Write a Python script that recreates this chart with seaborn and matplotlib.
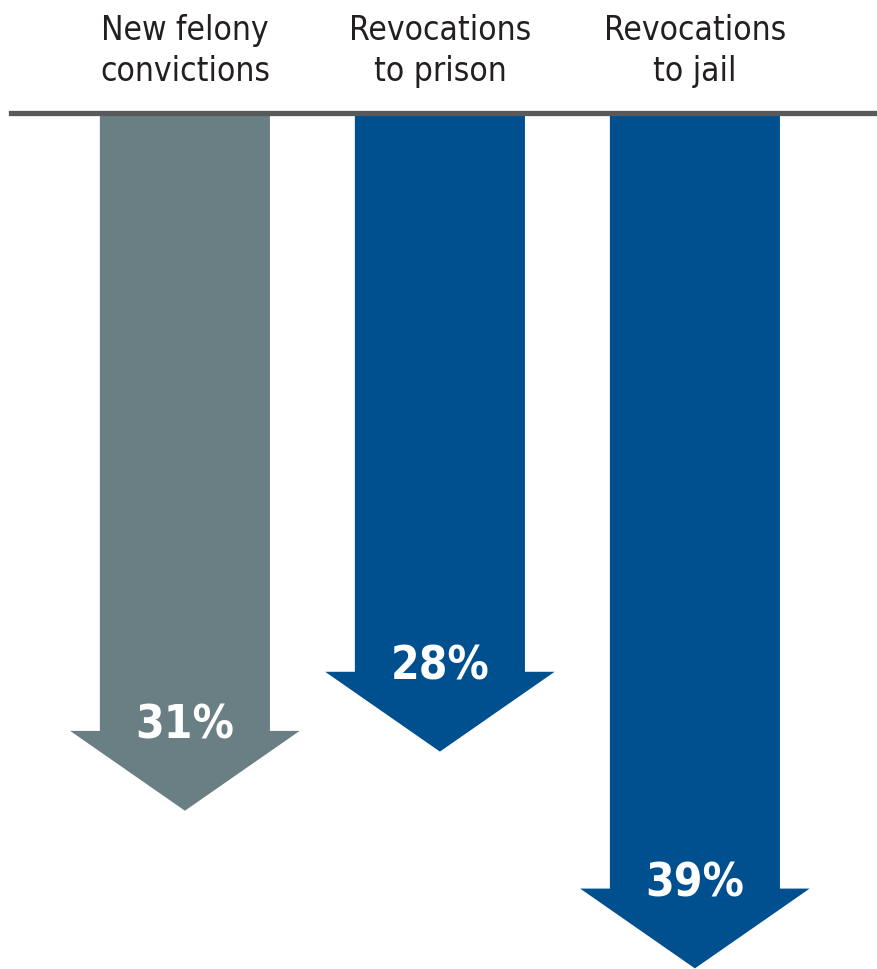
import matplotlib.pyplot as plt
import seaborn as sns
from matplotlib.patches import FancyArrow

# data
categories = ['New felony\nconvictions', 'Revocations\nto prison', 'Revocations\nto jail']
values = [31, 28, 39]
value_labels = ['31%', '28%', '39%']
colors = ['#6a7f84', '#00508f', '#00508f']

sns.set_theme(style='white')
plt.rcParams['font.family'] = ['DejaVu Sans']
plt.rcParams['font.stretch'] = 'condensed'

fig = plt.figure(figsize=(8.78, 9.69), dpi=100)
ax = fig.add_axes([11 / 878, 0, 1 - 11 / 878, 1 - 113 / 969])

start = -4.4      # arrows start a bit above zero, at the rule
head_len = 4.05
for i, (v, c, lab) in enumerate(zip(values, colors, value_labels)):
    ax.add_patch(FancyArrow(i, start, 0, v - start, width=0.667,
                            head_width=0.9, head_length=head_len,
                            length_includes_head=True,
                            facecolor=c, edgecolor='none', lw=0))
    ax.text(i, v - head_len - 0.25, lab, ha='center', va='center',
            color='white', fontsize=33, fontweight='bold',
            fontstretch='condensed')

ax.set_xlim(-0.682, 2.718)
ax.set_ylim(39.03, start)

for side in ['left', 'right', 'bottom']:
    ax.spines[side].set_visible(False)
ax.spines['top'].set_color('#58595b')
ax.spines['top'].set_linewidth(3.8)

ax.xaxis.tick_top()
ax.set_xticks(range(len(categories)))
ax.set_xticklabels(categories, fontsize=24, color='#231f20', linespacing=1.3,
                   fontstretch='condensed')
ax.tick_params(axis='x', length=0, pad=18)
ax.set_yticks([])

fig.savefig('out.png', dpi=100)
